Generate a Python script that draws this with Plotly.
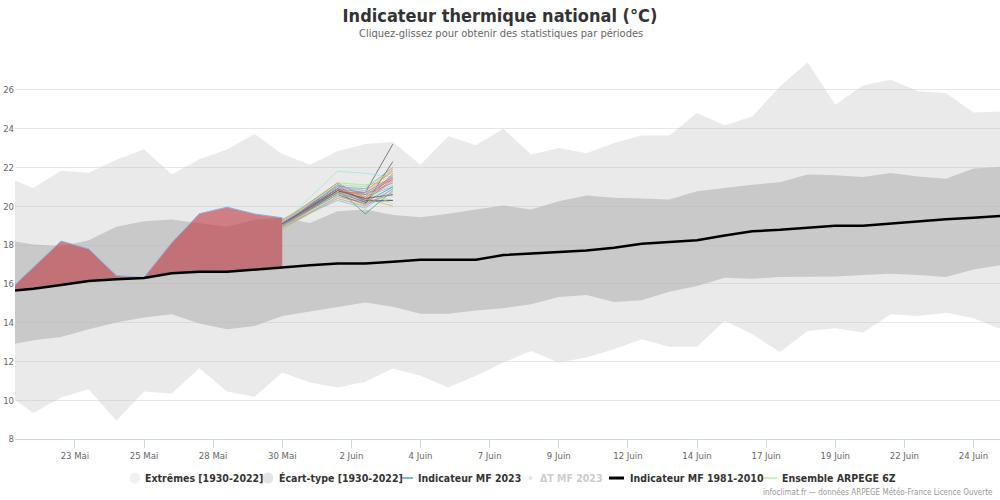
import plotly.graph_objects as go

# ---- data ----
days = ["2023-05-%02d 12:00" % d for d in range(20, 32)] + ["2023-06-%02d 12:00" % d for d in range(1, 26)]

ext_max = [21.5, 20.94, 21.83, 21.73, 22.40, 22.93, 21.63, 22.42, 22.92, 23.72, 22.69, 22.14,
           22.83, 23.21, 23.31, 22.14, 23.60, 23.14, 23.99, 22.66, 23.0, 22.73, 23.26, 23.64,
           23.64, 24.80, 24.17, 24.63, 26.17, 27.42, 25.23, 26.22, 26.52, 25.92, 25.83, 24.83, 24.89]
ext_min = [10.35, 9.34, 10.14, 10.57, 8.94, 10.45, 10.35, 11.65, 10.45, 10.18, 11.43, 10.91,
           10.66, 10.95, 11.63, 11.26, 10.66, 11.26, 11.94, 12.54, 11.94, 12.2, 12.63, 13.14,
           12.75, 12.75, 14.09, 13.4, 12.49, 13.57, 13.71, 13.49, 14.43, 14.34, 14.51, 14.22, 13.66]
std_max = [18.25, 18.03, 17.94, 18.25, 18.94, 19.23, 19.31, 19.14, 18.94, 19.3, 19.4, 19.14,
           19.74, 19.83, 19.54, 19.43, 19.61, 19.83, 20.03, 19.83, 20.26, 20.55, 20.43, 20.40,
           20.34, 20.77, 20.94, 21.11, 21.23, 21.63, 21.6, 21.51, 21.71, 21.53, 21.42, 21.94, 22.02]
std_min = [12.82, 13.09, 13.26, 13.66, 14.0, 14.26, 14.43, 13.95, 13.66, 13.83, 14.34, 14.57,
           14.81, 15.03, 14.82, 14.46, 14.46, 14.63, 14.74, 14.94, 15.32, 15.42, 15.06, 15.15,
           15.59, 15.89, 16.31, 16.26, 16.35, 16.35, 16.37, 16.45, 16.52, 16.45, 16.35, 16.74, 16.97]
normal_8110 = [15.6, 15.75, 15.94, 16.14, 16.23, 16.3, 16.54, 16.62, 16.62, 16.74, 16.86, 16.95,
               17.05, 17.05, 17.14, 17.24, 17.24, 17.24, 17.48, 17.55, 17.63, 17.72, 17.86, 18.06,
               18.15, 18.25, 18.49, 18.71, 18.78, 18.89, 18.99, 18.99, 19.11, 19.23, 19.33, 19.4, 19.5]

obs_days = days[:11]
obs_2023 = [15.5, 16.85, 18.2, 17.8, 16.42, 16.33, 18.11, 19.61, 19.95, 19.6, 19.4]
delta_2023 = [-0.1, 1.1, 2.26, 1.66, 0.19, 0.03, 1.57, 2.99, 3.33, 2.86, 2.54]

ens_days = ["2023-05-30 12:00", "2023-06-01 12:00", "2023-06-02 12:00", "2023-06-03 12:00"]
ens_members = [
    [19.1, 20.9, 20.5, 21.0], [19.0, 20.7, 20.7, 23.2], [19.2, 21.2, 21.1, 21.3], [19.0, 20.8, 20.4, 21.6],
    [18.9, 20.4, 20.0, 20.9], [19.2, 21.0, 20.8, 21.8], [19.1, 21.1, 20.7, 21.9], [19.0, 20.9, 19.6, 20.8],
    [19.3, 21.0, 20.3, 21.4], [19.1, 21.8, 21.7, 21.5], [18.8, 20.5, 20.2, 20.6], [19.0, 20.6, 20.1, 22.3],
    [19.2, 20.9, 20.5, 21.1], [18.9, 20.6, 20.4, 20.0], [19.1, 21.0, 20.9, 22.0], [19.0, 20.8, 20.2, 21.7],
    [19.2, 20.7, 20.6, 20.3], [19.0, 21.1, 20.2, 20.3], [19.2, 21.2, 20.4, 21.5], [18.9, 20.6, 20.8, 20.5],
    [19.0, 20.3, 19.9, 20.9], [19.1, 20.9, 20.3, 20.3], [19.0, 20.8, 20.7, 21.4], [19.2, 20.7, 20.6, 21.9],
    [19.0, 21.1, 20.6, 21.2], [19.1, 20.9, 20.3, 21.3], [18.8, 20.4, 20.0, 22.0], [19.1, 20.7, 20.2, 21.0],
    [19.0, 20.8, 20.6, 21.4], [19.3, 21.0, 20.8, 20.1], [19.0, 20.6, 20.5, 21.6], [19.1, 20.8, 20.4, 20.6],
    [19.2, 21.1, 21.0, 21.8], [18.9, 20.5, 20.1, 20.7], [19.1, 20.9, 20.7, 21.5],
]
ens_palette = ['#7cb5ec', '#434348', '#90ed7d', '#f7a35c', '#8085e9',
               '#f15c80', '#e4d354', '#2b908f', '#f45b5b', '#91e8e1']

tick_dates = ["2023-05-23 00:00", "2023-05-25 12:00", "2023-05-28 00:00", "2023-05-30 12:00",
              "2023-06-02 00:00", "2023-06-04 12:00", "2023-06-07 00:00", "2023-06-09 12:00",
              "2023-06-12 00:00", "2023-06-14 12:00", "2023-06-17 00:00", "2023-06-19 12:00",
              "2023-06-22 00:00", "2023-06-24 12:00"]
tick_labels = ["23 Mai", "25 Mai", "28 Mai", "30 Mai", "2 Juin", "4 Juin", "7 Juin", "9 Juin",
               "12 Juin", "14 Juin", "17 Juin", "19 Juin", "22 Juin", "24 Juin"]
y_ticks = [8, 10, 12, 14, 16, 18, 20, 22, 24, 26]

legend_names = ["Extrêmes [1930-2022]", "Écart-type [1930-2022]", "Indicateur MF 2023",
                "ΔT MF 2023", "Indicateur MF 1981-2010", "Ensemble ARPEGE 6Z"]

FONT = "DejaVu Sans Condensed, DejaVu Sans, sans-serif"

# plot-area geometry (pixels) for paper-coordinate conversion of legend items
PL, PR, PT, PB = 15, 1000, 51.2, 439.0


def px_x(px):
    return (px - PL) / (PR - PL)


def px_y(py):
    return (PB - py) / (PB - PT)


fig = go.Figure()

# Extremes band
fig.add_trace(go.Scatter(x=days, y=ext_min, mode="lines", line=dict(width=0),
                         showlegend=False, hoverinfo="skip"))
fig.add_trace(go.Scatter(x=days, y=ext_max, mode="lines", line=dict(width=0),
                         fill="tonexty", fillcolor="rgba(200,200,200,0.38)",
                         showlegend=False, name=legend_names[0]))
# Std band
fig.add_trace(go.Scatter(x=days, y=std_min, mode="lines", line=dict(width=0),
                         showlegend=False, hoverinfo="skip"))
fig.add_trace(go.Scatter(x=days, y=std_max, mode="lines", line=dict(width=0),
                         fill="tonexty", fillcolor="rgba(180,180,180,0.62)",
                         showlegend=False, name=legend_names[1]))

# Observed 2023 with fill to normal
fig.add_trace(go.Scatter(x=obs_days, y=normal_8110[:len(obs_days)], mode="lines",
                         line=dict(width=0), showlegend=False, hoverinfo="skip"))
fig.add_trace(go.Scatter(x=obs_days, y=obs_2023, mode="lines", line=dict(color="#7cb5ec", width=1),
                         fill="tonexty", fillcolor="rgba(190,60,70,0.62)",
                         showlegend=False, name=legend_names[2]))

# hidden ΔT series
fig.add_trace(go.Scatter(x=obs_days, y=delta_2023, mode="markers", name=legend_names[3],
                         marker=dict(size=5, color="#cccccc"), visible=False, showlegend=False))

# Ensemble members
for i, m in enumerate(ens_members):
    fig.add_trace(go.Scatter(x=ens_days, y=m, mode="lines",
                             line=dict(color=ens_palette[i % len(ens_palette)], width=1),
                             opacity=0.65, showlegend=False, name=legend_names[5]))

# Normal 1981-2010
fig.add_trace(go.Scatter(x=days, y=normal_8110, mode="lines", line=dict(color="#000000", width=2.5),
                         showlegend=False, name=legend_names[4]))

# ---- custom legend (tight Highcharts-like layout) ----
LY = 478
shapes = []
annotations = []
leg_font = dict(size=10.5, color="#333333", weight="bold", family=FONT)

# circle symbols
for cx, col in [(135, "#f1f1f1"), (268, "#e4e4e4")]:
    shapes.append(dict(type="circle", xref="paper", yref="paper",
                       x0=px_x(cx - 5.5), x1=px_x(cx + 5.5), y0=px_y(LY + 5.5), y1=px_y(LY - 5.5),
                       fillcolor=col, line=dict(width=0), layer="above"))
# small dot for ΔT
shapes.append(dict(type="circle", xref="paper", yref="paper",
                   x0=px_x(528.5), x1=px_x(532.5), y0=px_y(LY + 2), y1=px_y(LY - 2),
                   fillcolor="#e6e6e6", line=dict(width=0), layer="above"))
# line symbols
for x0, x1, col, w in [(401, 413, "#7cb5ec", 2), (609, 624, "#000000", 3), (763, 777, "#90ed7d", 1)]:
    shapes.append(dict(type="line", xref="paper", yref="paper",
                       x0=px_x(x0), x1=px_x(x1), y0=px_y(LY), y1=px_y(LY),
                       line=dict(color=col, width=w), layer="above"))

text_starts = [143, 277, 416, 538, 628, 780]
for name, xs in zip(legend_names, text_starts):
    f = dict(leg_font)
    if name == legend_names[3]:
        f["color"] = "#cccccc"
    annotations.append(dict(text=name, xref="paper", yref="paper", x=px_x(xs), y=px_y(LY),
                            xanchor="left", yanchor="middle", showarrow=False, font=f))

annotations.append(dict(text="Cliquez-glissez pour obtenir des statistiques par périodes",
                        xref="paper", yref="paper", x=px_x(501), y=px_y(34),
                        xanchor="center", yanchor="middle", showarrow=False,
                        font=dict(size=11, color="#666666", family=FONT)))
annotations.append(dict(text="infoclimat.fr — données ARPEGE Météo-France Licence Ouverte",
                        xref="paper", yref="paper", x=px_x(995), y=px_y(492),
                        xanchor="right", yanchor="middle", showarrow=False,
                        font=dict(size=8, color="#999999", family=FONT)))

fig.update_layout(
    width=1000, height=500,
    margin=dict(l=15, r=0, t=51, b=61, autoexpand=False),
    paper_bgcolor="white", plot_bgcolor="white",
    font=dict(family=FONT, color="#666666"),
    title=dict(text="Indicateur thermique national (°C)", x=0.5, xanchor="center",
               y=1 - 16 / 500, yanchor="middle", yref="container",
               font=dict(size=18, color="#333333", weight="bold", family=FONT)),
    xaxis=dict(type="date", range=["2023-05-20 20:00", "2023-06-25 11:00"],
               tickmode="array", tickvals=tick_dates, ticktext=tick_labels,
               ticks="outside", ticklen=8, tickcolor="#ccd6eb", tickwidth=1,
               showline=True, linecolor="#ccd6eb", linewidth=1,
               showgrid=False, zeroline=False, tickfont=dict(size=9.5, color="#666666")),
    yaxis=dict(range=[8, 28], tickmode="array", tickvals=y_ticks,
               showgrid=True, gridcolor="#e6e6e6", gridwidth=1, zeroline=False,
               showline=False, ticks="", tickfont=dict(size=9.5, color="#666666"),
               automargin=False),
    showlegend=False,
    hovermode="x",
    shapes=shapes,
    annotations=annotations,
)

fig.write_html("out.html", config={"displayModeBar": False},
               post_script="document.body.style.margin='0px';")
